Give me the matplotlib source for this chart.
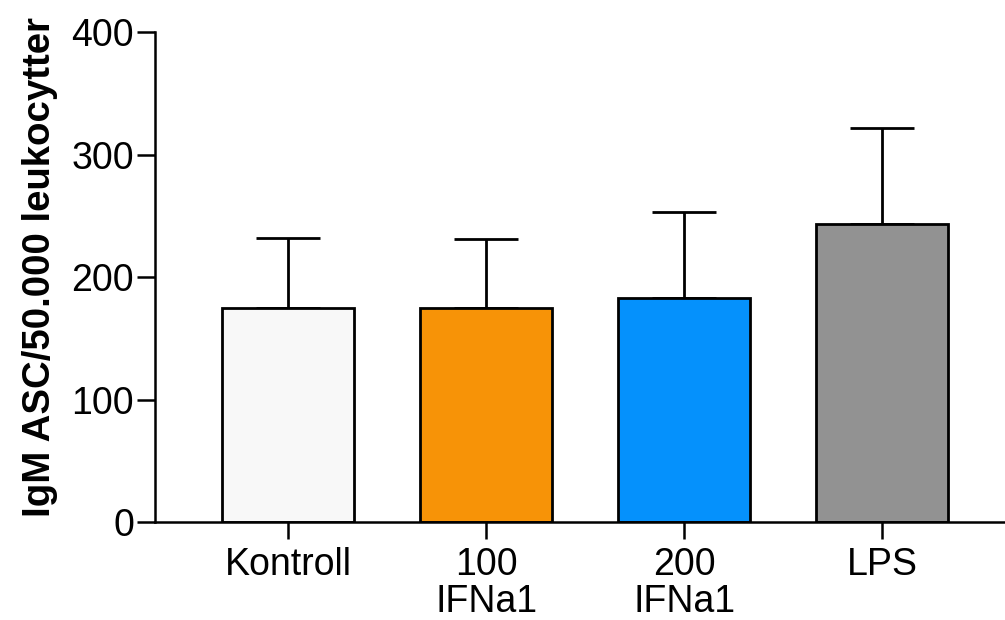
import matplotlib
matplotlib.use("Agg")
import matplotlib.pyplot as plt

categories = ["Kontroll", "100\nIFNa1", "200\nIFNa1", "LPS"]
means = [175, 175, 183, 243]
sem = [57, 56, 70, 79]
colors = ["#f8f8f8", "#f79307", "#0591fc", "#929292"]
yticks = [0, 100, 200, 300, 400]

plt.rcParams["font.family"] = ["Liberation Sans", "DejaVu Sans"]

fig = plt.figure(figsize=(10.05, 6.2), dpi=100)
ax = fig.add_axes([0.1542, 0.158, 0.8458, 0.79])

x = list(range(len(categories)))
ax.bar(x, means, width=0.667, color=colors, edgecolor="black", linewidth=2.0, zorder=2)
ax.errorbar(x, means, yerr=[[0] * len(sem), sem], fmt="none", ecolor="black",
            elinewidth=2.0, capsize=23, capthick=2.0, zorder=1)

ax.set_xlim(-0.672, 3.62)
ax.set_ylim(0, 400)
ax.set_yticks(yticks)
ax.set_xticks(x)
ax.set_xticklabels(categories, fontsize=27, linespacing=1.05)
ax.tick_params(axis="y", labelsize=27, length=13, width=1.8, pad=2)
ax.tick_params(axis="x", length=12, width=1.8, pad=6)

for side in ("top", "right"):
    ax.spines[side].set_visible(False)
for side in ("left", "bottom"):
    ax.spines[side].set_linewidth(1.8)

ax.set_ylabel("IgM ASC/50.000 leukocytter", fontsize=27.6, fontweight="bold")
ax.yaxis.set_label_coords(-0.114, 0.52)

fig.savefig("out.png", dpi=100)
